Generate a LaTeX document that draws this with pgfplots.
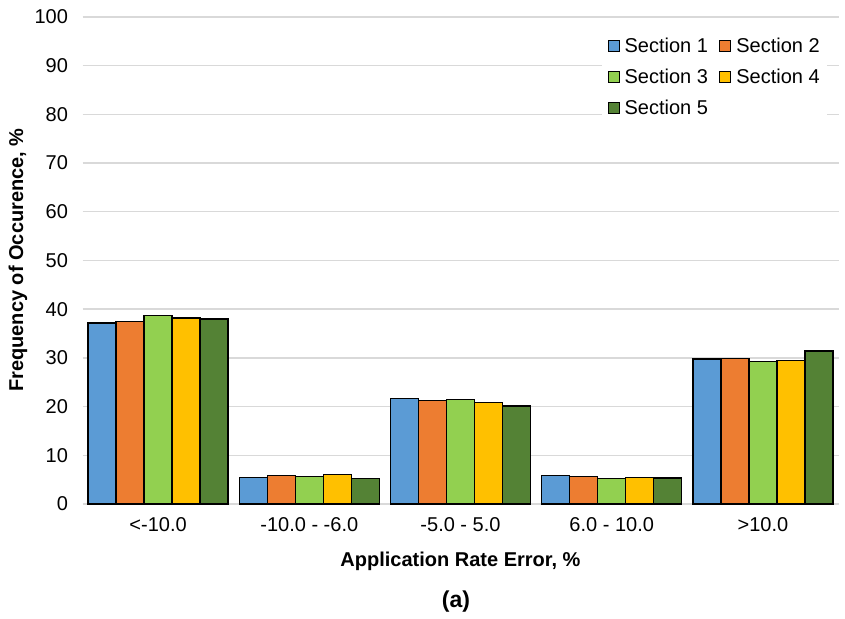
\documentclass[border=0pt]{standalone}
\usepackage{pgfplots}
\pgfplotsset{compat=1.18}
\usepackage{fontspec}
\setmainfont{Liberation Sans}
\definecolor{s1}{HTML}{5B9BD5}
\definecolor{s2}{HTML}{ED7D31}
\definecolor{s3}{HTML}{92D050}
\definecolor{s4}{HTML}{FFC000}
\definecolor{s5}{HTML}{548235}
\definecolor{gridc}{HTML}{D9D9D9}
\begin{document}
\begin{tikzpicture}
\path[use as bounding box] (0,0) rectangle (845bp,619bp);
\begin{axis}[
  at={(82.5bp,115bp)}, anchor=south west,
  scale only axis, width=756bp, height=487bp,
  ybar=0pt, bar width=28bp,
  xmin=-0.5, xmax=4.5, ymin=0, ymax=100,
  ytick={0,10,...,100},
  xtick={0,1,2,3,4},
  xticklabels={{<-10.0},{-10.0 - -6.0},{-5.0 - 5.0},{6.0 - 10.0},{>10.0}},
  /pgf/number format/assume math mode=true,
  ticklabel style={font=\fontsize{20bp}{24bp}\selectfont},
  yticklabel style={xshift=-11bp},
  xticklabel style={yshift=-10bp},
  major tick length=0pt,
  axis line style={draw=none},
  ymajorgrids, grid style={draw=gridc, line width=1.4bp},
  clip=false,
  legend columns=2,
  legend cell align=left,
  legend style={at={(0.6865,0.968)}, anchor=north west, draw=none, fill=white,
    inner xsep=6bp, inner ysep=4bp,
    font=\fontsize{20bp}{24bp}\selectfont, row sep=12bp,
    /tikz/every even column/.append style={column sep=10bp},
    nodes={inner sep=1.5bp}},
  legend image code/.code={\draw[#1,draw=black,line width=0.8bp] (0bp,-5.5bp) rectangle (11bp,5.5bp); \path[draw=none,fill=none] (0bp,0bp) -- (15bp,0bp);},
  every axis plot/.append style={draw=black, line width=1.4bp},
]
\addplot[fill=s1] coordinates {(0,37.2) (1,5.5) (2,21.7) (3,5.8) (4,29.8)};
\addplot[fill=s2] coordinates {(0,37.5) (1,5.9) (2,21.2) (3,5.6) (4,29.9)};
\addplot[fill=s3] coordinates {(0,38.7) (1,5.6) (2,21.4) (3,5.2) (4,29.2)};
\addplot[fill=s4] coordinates {(0,38.2) (1,6.0) (2,20.9) (3,5.5) (4,29.5)};
\addplot[fill=s5] coordinates {(0,38.0) (1,5.2) (2,20.1) (3,5.3) (4,31.4)};
\legend{Section 1,Section 2,Section 3,Section 4,Section 5}
\node[font=\fontsize{20bp}{24bp}\selectfont\bfseries] at (rel axis cs:0.5,-0.118) {Application Rate Error, \%};
\node[font=\fontsize{20bp}{24bp}\selectfont\bfseries, rotate=90] at (rel axis cs:-0.0853,0.501) {Frequency of Occurence, \%};
\node[font=\fontsize{23bp}{27bp}\selectfont\bfseries] at (rel axis cs:0.494,-0.2) {(a)};
\end{axis}
\end{tikzpicture}
\end{document}
